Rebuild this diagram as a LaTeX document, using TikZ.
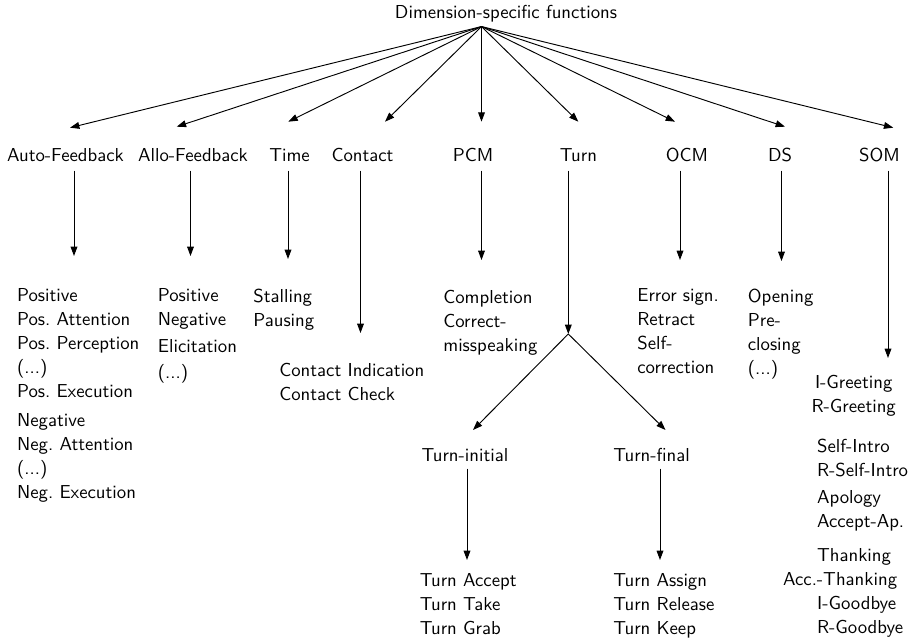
\documentclass[tikz,border=0pt]{standalone}
\usetikzlibrary{arrows.meta}
\begin{document}
\frenchspacing
\begin{tikzpicture}[x=0.5333pt,y=-0.5333pt,
  every node/.style={font=\sffamily\fontsize{10}{12.8}\selectfont\frenchspacing, inner sep=0pt},
  arr/.style={-{Triangle[length=5pt,width=3.6pt]}, line width=0.5pt},
  dimlabel/.style={anchor=base, inner ysep=4.5pt},
  sublabel/.style={anchor=base, inner ysep=3.5pt},
  block/.style={anchor=north west, align=left}]
\useasboundingbox (0,0) rectangle (913,641);

% root
\node[inner sep=2pt] (root) at (506,14) {Dimension-specific functions};
\coordinate (hub) at (481.5,26);

% level 1
\node[dimlabel] (auto)    at (65.5,161.5)  {Auto-Feedback};
\node[dimlabel] (allo)    at (193,161.5)   {Allo-Feedback};
\node[dimlabel] (time)    at (289.5,161.5) {Time};
\node[dimlabel] (contact) at (362.5,161.5) {Contact};
\node[dimlabel] (pcm)     at (473,161.5)   {PCM};
\node[dimlabel] (turn)    at (578.5,161.5) {Turn};
\node[dimlabel] (ocm)     at (687,161.5)   {OCM};
\node[dimlabel] (ds)      at (780,161.5)   {DS};
\node[dimlabel] (som)     at (879.5,161.5) {SOM};

% arrow tips from root
\coordinate (a1) at (70,127.7);
\coordinate (a2) at (176.7,126.7);
\coordinate (a3) at (288.3,121.7);
\coordinate (a4) at (385,121.7);
\coordinate (a5) at (481.5,121.7);
\coordinate (a6) at (578.3,121.7);
\coordinate (a7) at (675,121.7);
\coordinate (a8) at (785,126.7);
\coordinate (a9) at (893.3,127.7);
\foreach \t in {a1,a2,a3,a4,a5,a6,a7,a8,a9}
  \draw[arr] (root.south -| hub) -- (\t);

% arrow tips below level 1
\coordinate (autoT)    at (74,256);
\coordinate (alloT)    at (190.5,256);
\coordinate (timeT)    at (288,259);
\coordinate (contactT) at (360.5,333);
\coordinate (pcmT)     at (481.5,260);
\coordinate (split)    at (568.3,334);
\coordinate (ocmT)     at (680,260);
\coordinate (dsT)      at (781.5,261);
\coordinate (somT)     at (888,358);

\draw[arr] (auto.south -| autoT) -- (autoT);
\draw[arr] (allo.south -| alloT) -- (alloT);
\draw[arr] (time.south -| timeT) -- (timeT);
\draw[arr] (contact.south -| contactT) -- (contactT);
\draw[arr] (pcm.south -| pcmT) -- (pcmT);
\draw[arr] (turn.south -| split) -- (split);
\draw[arr] (ocm.south -| ocmT) -- (ocmT);
\draw[arr] (ds.south -| dsT) -- (dsT);
\draw[arr] (som.south -| somT) -- (somT);

% child blocks
\node[block] (autoA) at (16.7,288.5) {Positive\\Pos. Attention\\Pos. Perception\\(...)\\Pos. Execution};
\node[block] (autoB) at (16.7,413.4) {Negative\\Neg. Attention\\(...)\\Neg. Execution};
\node[block] (alloA) at (157.5,288.5) {Positive\\Negative\\[1.3pt]Elicitation\\[1.3pt](...)};
\node[block] (timeA) at (253,288.5) {Stalling\\Pausing};
\node[block] (contactA) at (279,362.5) {Contact Indication\\Contact Check};
\node[block] (pcmA) at (443,289.5) {Completion\\Correct-\\misspeaking};
\node[block] (ocmA) at (637,288.5) {Error sign.\\Retract\\Self-\\correction};
\node[block] (dsA) at (747.5,288.5) {Opening\\Pre-\\closing\\(...)};

% SOM groups
\node[anchor=north, align=center] (somA) at (853.7,375) {I-Greeting\\R-Greeting};
\node[block] (somB) at (816.7,438.5) {Self-Intro\\R-Self-Intro};
\node[block] (somC) at (816.7,490) {Apology\\Accept-Ap.};
\node[block] (somD) at (816.7,548.4) {Thanking\\\hspace*{-18.1pt}Acc.-Thanking\\I-Goodbye\\R-Goodbye};

% Turn sub-branches
\node[sublabel] (ti) at (465,461.5) {Turn-initial};
\node[sublabel] (tf) at (651.6,461.5) {Turn-final};
\coordinate (tiT) at (473,430);
\coordinate (tfT) at (665.5,430);
\draw[arr] (split) -- (tiT);
\draw[arr] (split) -- (tfT);

\coordinate (tiA) at (467,560);
\coordinate (tfA) at (660,560);
\draw[arr] (ti.south -| tiA) -- (tiA);
\draw[arr] (tf.south -| tfA) -- (tfA);

\node[block] (tiB) at (419.5,573) {Turn Accept\\Turn Take\\Turn Grab};
\node[block] (tfB) at (613,573) {Turn Assign\\Turn Release\\Turn Keep};
\end{tikzpicture}
\end{document}
